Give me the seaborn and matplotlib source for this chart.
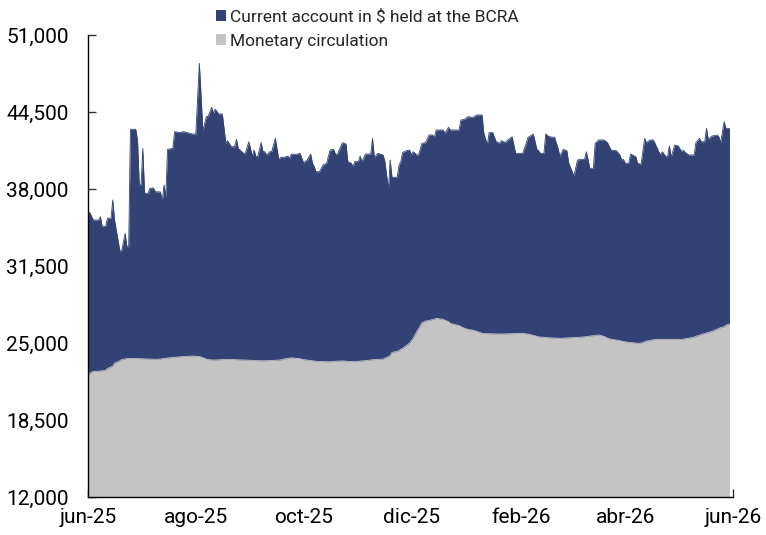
import numpy as np
import pandas as pd
import seaborn as sns
import matplotlib.pyplot as plt
from matplotlib import font_manager
from matplotlib.patches import Patch

# values (millions of $)
dates = [
    "2025-06-01", "2025-06-02", "2025-06-04", "2025-06-07", "2025-06-08", "2025-06-09", "2025-06-11",
    "2025-06-12", "2025-06-14", "2025-06-15", "2025-06-16", "2025-06-19", "2025-06-20", "2025-06-22",
    "2025-06-23", "2025-06-24", "2025-06-25", "2025-06-28", "2025-06-29", "2025-06-30", "2025-07-01",
    "2025-07-02", "2025-07-03", "2025-07-05", "2025-07-06", "2025-07-08", "2025-07-09", "2025-07-12",
    "2025-07-13", "2025-07-14", "2025-07-15", "2025-07-16", "2025-07-19", "2025-07-20", "2025-07-23",
    "2025-07-25", "2025-07-30", "2025-08-01", "2025-08-03", "2025-08-05", "2025-08-07", "2025-08-08",
    "2025-08-10", "2025-08-11", "2025-08-12", "2025-08-14", "2025-08-16", "2025-08-18", "2025-08-19",
    "2025-08-21", "2025-08-23", "2025-08-24", "2025-08-25", "2025-08-28", "2025-08-29", "2025-08-31",
    "2025-09-02", "2025-09-03", "2025-09-04", "2025-09-05", "2025-09-07", "2025-09-08", "2025-09-09",
    "2025-09-10", "2025-09-12", "2025-09-13", "2025-09-15", "2025-09-17", "2025-09-18", "2025-09-20",
    "2025-09-22", "2025-09-23", "2025-09-24", "2025-09-27", "2025-09-29", "2025-09-30", "2025-10-01",
    "2025-10-03", "2025-10-05", "2025-10-06", "2025-10-07", "2025-10-08", "2025-10-10", "2025-10-12",
    "2025-10-14", "2025-10-16", "2025-10-18", "2025-10-19", "2025-10-20", "2025-10-21", "2025-10-23",
    "2025-10-25", "2025-10-26", "2025-10-28", "2025-10-29", "2025-10-30", "2025-11-01", "2025-11-02",
    "2025-11-03", "2025-11-05", "2025-11-08", "2025-11-09", "2025-11-10", "2025-11-12", "2025-11-15",
    "2025-11-16", "2025-11-18", "2025-11-19", "2025-11-20", "2025-11-23", "2025-11-24", "2025-11-25",
    "2025-11-26", "2025-11-28", "2025-11-30", "2025-12-01", "2025-12-02", "2025-12-04", "2025-12-05",
    "2025-12-07", "2025-12-09", "2025-12-11", "2025-12-13", "2025-12-14", "2025-12-15", "2025-12-19",
    "2025-12-20", "2025-12-22", "2025-12-23", "2025-12-28", "2025-12-29", "2025-12-31", "2026-01-02",
    "2026-01-05", "2026-01-07", "2026-01-10", "2026-01-11", "2026-01-13", "2026-01-14", "2026-01-16",
    "2026-01-18", "2026-01-20", "2026-01-21", "2026-01-23", "2026-01-25", "2026-01-27", "2026-01-29",
    "2026-02-02", "2026-02-04", "2026-02-05", "2026-02-08", "2026-02-10", "2026-02-11", "2026-02-12",
    "2026-02-14", "2026-02-15", "2026-02-17", "2026-02-20", "2026-02-22", "2026-02-23", "2026-02-25",
    "2026-02-27", "2026-02-28", "2026-03-03", "2026-03-05", "2026-03-07", "2026-03-09", "2026-03-10",
    "2026-03-12", "2026-03-14", "2026-03-15", "2026-03-17", "2026-03-20", "2026-03-22", "2026-03-24",
    "2026-03-27", "2026-03-29", "2026-03-30", "2026-03-31", "2026-04-01", "2026-04-03", "2026-04-04",
    "2026-04-07", "2026-04-08", "2026-04-10", "2026-04-12", "2026-04-13", "2026-04-15", "2026-04-17",
    "2026-04-20", "2026-04-21", "2026-04-22", "2026-04-24", "2026-04-25", "2026-04-26", "2026-04-27",
    "2026-04-29", "2026-05-01", "2026-05-03", "2026-05-04", "2026-05-05", "2026-05-07", "2026-05-10",
    "2026-05-11", "2026-05-13", "2026-05-14", "2026-05-16", "2026-05-17", "2026-05-18", "2026-05-20",
    "2026-05-23", "2026-05-24", "2026-05-25", "2026-05-27", "2026-05-28", "2026-05-30",
]

# top of the stack = circulation + current account
total = [
    36000, 36000, 35380, 35380, 35660, 34820, 34850,
    35530, 35530, 37070, 35380, 32790, 32760, 34260,
    33130, 33130, 43040, 43040, 42140, 38340, 38380,
    41430, 37640, 37640, 38060, 38090, 37770, 37750,
    36930, 38340, 37350, 41350, 41430, 42840, 42760,
    42840, 42640, 42640, 48610, 42920, 44110, 44130,
    44900, 44390, 44730, 44330, 44330, 41860, 42080,
    41570, 41570, 42190, 41430, 41010, 41010, 41990,
    40780, 41290, 40730, 40730, 41910, 41150, 41150,
    40870, 41150, 41180, 42280, 40450, 40680, 40680,
    40780, 40590, 40930, 40930, 41010, 40590, 40220,
    40450, 40950, 40170, 39890, 39460, 39460, 40030,
    40170, 41290, 41340, 40950, 40870, 41250, 41910,
    41800, 40310, 40170, 39890, 40310, 40310, 40780,
    40310, 40950, 40950, 42280, 40680, 41010, 40870,
    40310, 37970, 40450, 38990, 38990, 40030, 40310,
    41070, 41230, 41290, 40870, 41150, 40870, 40870,
    41860, 41910, 42560, 42560, 42360, 42980, 42980,
    42700, 43210, 42980, 42980, 43820, 43880, 44100,
    44050, 44250, 44250, 42700, 41710, 42760, 42760,
    41990, 41860, 42080, 41910, 42190, 42410, 41010,
    41010, 41860, 42360, 42640, 41350, 41230, 41010,
    41010, 42640, 42410, 42360, 41430, 40780, 41350,
    41230, 40220, 39090, 40450, 40500, 40500, 41150,
    39750, 39750, 41860, 42140, 42140, 41910, 41290,
    41230, 40870, 40450, 40500, 40170, 40170, 40950,
    40730, 40170, 40090, 42280, 41910, 42140, 42140,
    41150, 40870, 41150, 40730, 40730, 41630, 40680,
    41710, 41630, 41150, 41290, 41070, 40870, 40870,
    41910, 42280, 41990, 41990, 43120, 42190, 42470,
    42560, 42410, 41910, 43680, 43120, 43120,
]

circulation = [
    22300, 22450, 22600, 22620, 22640, 22650, 22700,
    22850, 22980, 23050, 23300, 23500, 23600, 23650,
    23700, 23700, 23700, 23690, 23690, 23680, 23680,
    23670, 23660, 23650, 23640, 23630, 23620, 23650,
    23680, 23700, 23710, 23740, 23780, 23800, 23840,
    23860, 23900, 23880, 23860, 23760, 23640, 23600,
    23580, 23560, 23570, 23580, 23600, 23610, 23620,
    23610, 23600, 23590, 23580, 23570, 23560, 23550,
    23540, 23530, 23520, 23510, 23500, 23500, 23500,
    23510, 23520, 23530, 23540, 23555, 23570, 23650,
    23700, 23730, 23750, 23700, 23680, 23630, 23600,
    23560, 23520, 23500, 23480, 23460, 23440, 23430,
    23420, 23420, 23440, 23460, 23470, 23480, 23490,
    23470, 23450, 23440, 23430, 23420, 23450, 23470,
    23490, 23510, 23570, 23590, 23600, 23620, 23640,
    23720, 23850, 23950, 24200, 24300, 24350, 24480,
    24550, 24780, 25000, 25200, 25400, 25950, 26200,
    26700, 26850, 26900, 26980, 27020, 27080, 27000,
    26920, 26800, 26650, 26470, 26380, 26250, 26150,
    26070, 25980, 25820, 25800, 25790, 25780, 25770,
    25760, 25760, 25760, 25770, 25780, 25790, 25800,
    25820, 25780, 25750, 25650, 25560, 25520, 25500,
    25480, 25460, 25440, 25420, 25410, 25400, 25410,
    25430, 25440, 25460, 25480, 25490, 25520, 25540,
    25580, 25620, 25650, 25670, 25560, 25400, 25320,
    25250, 25200, 25150, 25120, 25100, 25060, 25040,
    25000, 24970, 25000, 25100, 25170, 25200, 25280,
    25310, 25310, 25310, 25310, 25310, 25310, 25310,
    25310, 25310, 25310, 25330, 25360, 25400, 25500,
    25560, 25650, 25720, 25800, 25850, 25900, 25980,
    26160, 26230, 26300, 26380, 26500, 26600,
]

series_labels = ["Current account in $ held at the BCRA", "Monetary circulation"]
tick_dates = ["2025-06-01", "2025-08-01", "2025-10-01", "2025-12-01",
              "2026-02-01", "2026-04-01", "2026-06-01"]
tick_labels = ["jun-25", "ago-25", "oct-25", "dic-25", "feb-26", "abr-26", "jun-26"]
y_ticks = [12000, 18500, 25000, 31500, 38000, 44500, 51000]

navy = "#334275"
gray = "#c4c4c4"

df = pd.DataFrame({"date": pd.to_datetime(dates),
                   "circulation": circulation,
                   "total": total})
df["current_account"] = df["total"] - df["circulation"]

sns.set_theme(style="ticks")
installed = {f.name for f in font_manager.fontManager.ttflist}
base_font = "Roboto" if "Roboto" in installed else "DejaVu Sans"
plt.rcParams["font.family"] = [base_font, "DejaVu Sans"]

fig = plt.figure(figsize=(7.66, 5.35), dpi=100)
ax = fig.add_axes([0.1149, 0.0710, 0.8420, 0.8636])

ax.stackplot(df["date"], df["circulation"], df["current_account"],
             colors=[gray, navy], linewidth=0)
# thin edges in the fill colours so the outline looks smooth
sns.lineplot(data=df, x="date", y="total", color=navy, linewidth=0.6, ax=ax)
sns.lineplot(data=df, x="date", y="circulation", color=gray, linewidth=0.6, ax=ax)

ax.set_xlim(pd.Timestamp(tick_dates[0]), pd.Timestamp(tick_dates[-1]))
ax.set_ylim(y_ticks[0], y_ticks[-1])
ax.set_xticks(pd.to_datetime(tick_dates))
ax.set_xticklabels(tick_labels)
ax.set_yticks(y_ticks)
ax.set_yticklabels([f"{v:,}" for v in y_ticks])
ax.set_xlabel("")
ax.set_ylabel("")

sns.despine(ax=ax)
for side in ["left", "bottom"]:
    ax.spines[side].set_color("black")
    ax.spines[side].set_linewidth(1.0)
ax.tick_params(axis="both", direction="in", length=6, width=1, color="#333333",
               labelsize=15, labelcolor="black")
ax.tick_params(axis="y", pad=14)
ax.tick_params(axis="x", pad=8)

handles = [Patch(facecolor=navy, edgecolor="none"), Patch(facecolor=gray, edgecolor="none")]
fig.legend(handles, series_labels, loc="upper left", bbox_to_anchor=(0.277, 0.99),
           frameon=False, fontsize=12.5, handlelength=0.6, handleheight=0.6,
           handletextpad=0.25, labelspacing=0.53, borderaxespad=0, borderpad=0.2)

fig.savefig("out.png", dpi=100)
